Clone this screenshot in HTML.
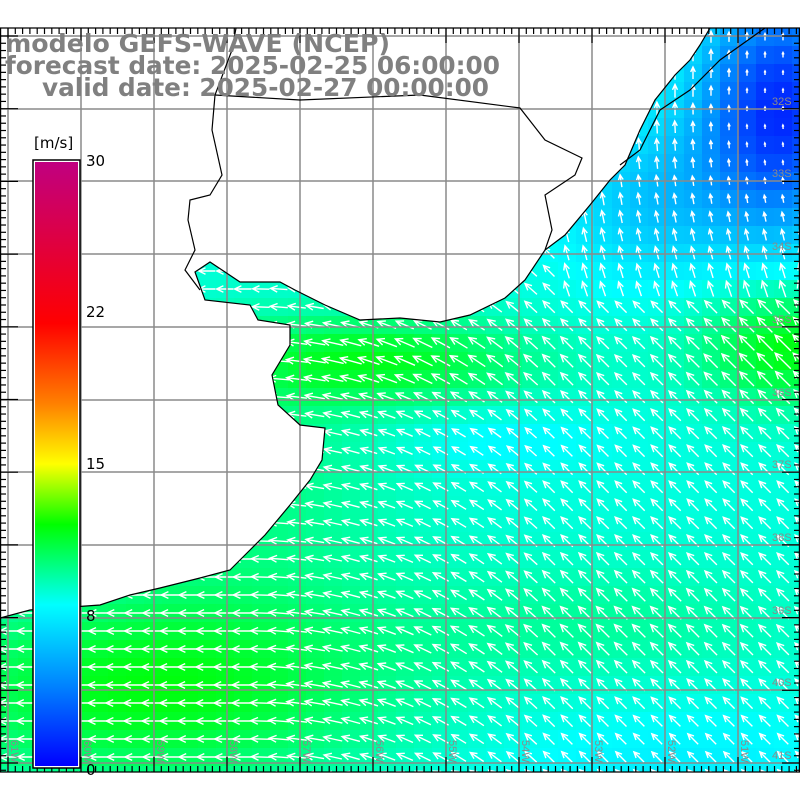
<!DOCTYPE html><html><head><meta charset="utf-8"><style>html,body{margin:0;padding:0;background:#fff}svg{display:block}</style></head><body>
<svg id="s" width="800" height="800" xmlns="http://www.w3.org/2000/svg" font-family="Liberation Sans, DejaVu Sans, sans-serif">
<defs>
<clipPath id="oc"><polygon id="ocp" points="710,28 700,45 690,60 675,75 655,100 640,130 625,165 610,180 590,205 565,235 545,250 525,280 505,298 470,315 440,322 400,318 360,320 325,305 295,290 280,282 240,282 210,262 195,272 205,300 250,305 258,320 290,325 290,345 272,375 278,405 300,425 325,428 322,460 310,480 290,505 265,535 250,550 230,570 200,578 160,588 130,595 100,605 30,610 0,618 0,772 800,772 800,28"/></clipPath>
<linearGradient id="cb" x1="0" y1="1" x2="0" y2="0">
<stop offset="0" stop-color="#0000ff"/><stop offset="0.13" stop-color="#0080ff"/><stop offset="0.267" stop-color="#00ffff"/><stop offset="0.4" stop-color="#00ff00"/><stop offset="0.5" stop-color="#ffff00"/><stop offset="0.6" stop-color="#ff8000"/><stop offset="0.733" stop-color="#ff0000"/><stop offset="1" stop-color="#c00080"/></linearGradient>
</defs>
<g id="cells" clip-path="url(#oc)"></g>
<g id="arr" clip-path="url(#oc)" stroke="#fff" stroke-width="1.4" fill="none"></g>
<g id="grid" stroke="#8a8a8a" stroke-width="1.5"></g>
<g fill="none" stroke="#000" stroke-width="1.2">
<polyline points="710,28 700,45 690,60 675,75 655,100 640,130 625,165 610,180 590,205 565,235 545,250 525,280 505,298 470,315 440,322 400,318 360,320 325,305 295,290 280,282 240,282 210,262 195,272 205,300 250,305 258,320 290,325 290,345 272,375 278,405 300,425 325,428 322,460 310,480 290,505 265,535 250,550 230,570 200,578 160,588 130,595 100,605 30,610 0,618"/>
<polyline points="236,28 232,50 215,95 212,130 222,175 210,195 190,200 188,220 195,250 185,270 200,290"/>
<polyline points="215,95 300,100 420,95 520,108 545,140 582,158 575,175 545,195 552,230 545,250"/>
<polyline points="765,28 720,60 690,90 660,110 650,130 640,150 620,165"/>
</g>
<g id="lab" fill="#8a8a8a" font-size="11"></g>
<g id="ticks" stroke="#000" stroke-width="1.2"></g>
<g fill="#808080" font-family="DejaVu Sans, sans-serif" font-weight="bold" font-size="25">
<text x="5" y="52" textLength="385" lengthAdjust="spacingAndGlyphs">modelo GEFS-WAVE (NCEP)</text>
<text x="5" y="74" textLength="495" lengthAdjust="spacingAndGlyphs">forecast date: 2025-02-25 06:00:00</text>
<text x="42" y="96" textLength="447" lengthAdjust="spacingAndGlyphs">valid date: 2025-02-27 00:00:00</text>
</g>
<rect x="33" y="160" width="47" height="608" fill="#fff" stroke="#000" stroke-width="1.5"/>
<rect x="35" y="162" width="43" height="604" fill="url(#cb)"/>
<g font-family="DejaVu Sans, sans-serif" font-size="15" fill="#000">
<text x="34" y="148">[m/s]</text>
<text x="86" y="166">30</text><text x="86" y="317">22</text><text x="86" y="469">15</text><text x="86" y="621">8</text><text x="86" y="775">0</text>
</g>
</svg>
<script>
var NS="http://www.w3.org/2000/svg";
function el(p,t,a){var e=document.createElementNS(NS,t);for(var k in a)e.setAttribute(k,a[k]);p.appendChild(e);return e;}
function g(x,y,cx,cy,sx,sy){var dx=(x-cx)/sx,dy=(y-cy)/sy;return Math.exp(-(dx*dx+dy*dy));}
function spd(x,y){var s=8.5;s+=3.2*g(x,y,150,690,240,100);s+=2.8*g(x,y,380,360,160,45);s+=3.4*g(x,y,790,345,90,60);
s-=7.2*g(x,y,780,110,80,120);s-=2.3*g(x,y,650,200,90,80);s-=1*g(x,y,680,770,200,60);s-=0.8*g(x,y,500,440,110,30);s+=1*g(x,y,600,620,200,60);s+=1.4*g(x,y,250,480,150,140);return s;}
var stops=[[0,[0,0,255]],[4,[0,128,255]],[8,[0,255,255]],[12,[0,255,0]],[15,[255,255,0]],[22,[255,0,0]],[30,[192,0,128]]];
function col(s){for(var i=0;i<stops.length-1;i++){var a=stops[i],b=stops[i+1];if(s<=b[0]){var t=Math.max(0,(s-a[0])/(b[0]-a[0]));var c=a[1].map(function(v,j){return Math.round(v+(b[1][j]-v)*t)});return "rgb("+c+")";}}return "rgb(192,0,128)";}
var C=document.getElementById("cells"),A=document.getElementById("arr");
for(var y=28;y<772;y+=18)for(var x=0;x<800;x+=18){var cx=x+9,cy=y+9,s=spd(cx,cy);
el(C,"rect",{x:x,y:y,width:18.5,height:18.5,fill:col(s)});
var ang=180-45*Math.min(1,Math.max(0,(cx-250)/300));if(cx>560&&cy<300)ang=90+20*Math.max(0,(cy-100)/200);
var r=ang*Math.PI/180,L=Math.max(4,s*1.9),ux=Math.cos(r),uy=-Math.sin(r);
var x0=cx-ux*L/2,y0=cy-uy*L/2,x1=cx+ux*L/2,y1=cy+uy*L/2,h=Math.min(8,L*0.45);
var c1=Math.cos(r+2.7),s1=-Math.sin(r+2.7),c2=Math.cos(r-2.7),s2=-Math.sin(r-2.7);
el(A,"path",{d:"M"+x0.toFixed(1)+","+y0.toFixed(1)+"L"+x1.toFixed(1)+","+y1.toFixed(1)+"M"+(x1+c1*h).toFixed(1)+","+(y1+s1*h).toFixed(1)+"L"+x1.toFixed(1)+","+y1.toFixed(1)+"L"+(x1+c2*h).toFixed(1)+","+(y1+s2*h).toFixed(1)});}
var G=document.getElementById("grid"),T=document.getElementById("ticks"),Lb=document.getElementById("lab");
var vx=[8,81,154,227,300,373,446,519,592,665,738],hy=[36,109,181,254,327,400,472,545,618,690,763];
vx.forEach(function(x){el(G,"line",{x1:x,y1:28,x2:x,y2:772});});
hy.forEach(function(y){el(G,"line",{x1:0,y1:y,x2:800,y2:y});});
el(T,"line",{x1:0,y1:28,x2:800,y2:28});el(T,"line",{x1:0,y1:772,x2:800,y2:772});el(T,"line",{x1:0.6,y1:28,x2:0.6,y2:772});el(T,"line",{x1:799.4,y1:28,x2:799.4,y2:772});
for(var x=8;x<800;x+=7.3){var big=vx.some(function(v){return Math.abs(v-x)<1});var l=big?15:6;el(T,"line",{x1:x,y1:28,x2:x,y2:28+l});el(T,"line",{x1:x,y1:772,x2:x,y2:772-l});}
for(var y=36;y<772;y+=7.27){var big=hy.some(function(v){return Math.abs(v-y)<1});var l=big?18:6;el(T,"line",{x1:0,y1:y,x2:l,y2:y});el(T,"line",{x1:800,y1:y,x2:800-l,y2:y});}
var lons=["61W","60W","59W","58W","57W","56W","55W","54W","53W","52W","51W"];
vx.forEach(function(x,i){var t=el(Lb,"text",{x:0,y:0,transform:"translate("+(x+3)+",740) rotate(90)"});t.textContent=lons[i];});
var lats=["31S","32S","33S","34S","35S","36S","37S","38S","39S","40S","41S"];
hy.forEach(function(y,i){if(i==0)return;var t=el(Lb,"text",{x:772,y:y-4});t.textContent=lats[i];});
</script>
</body></html>
